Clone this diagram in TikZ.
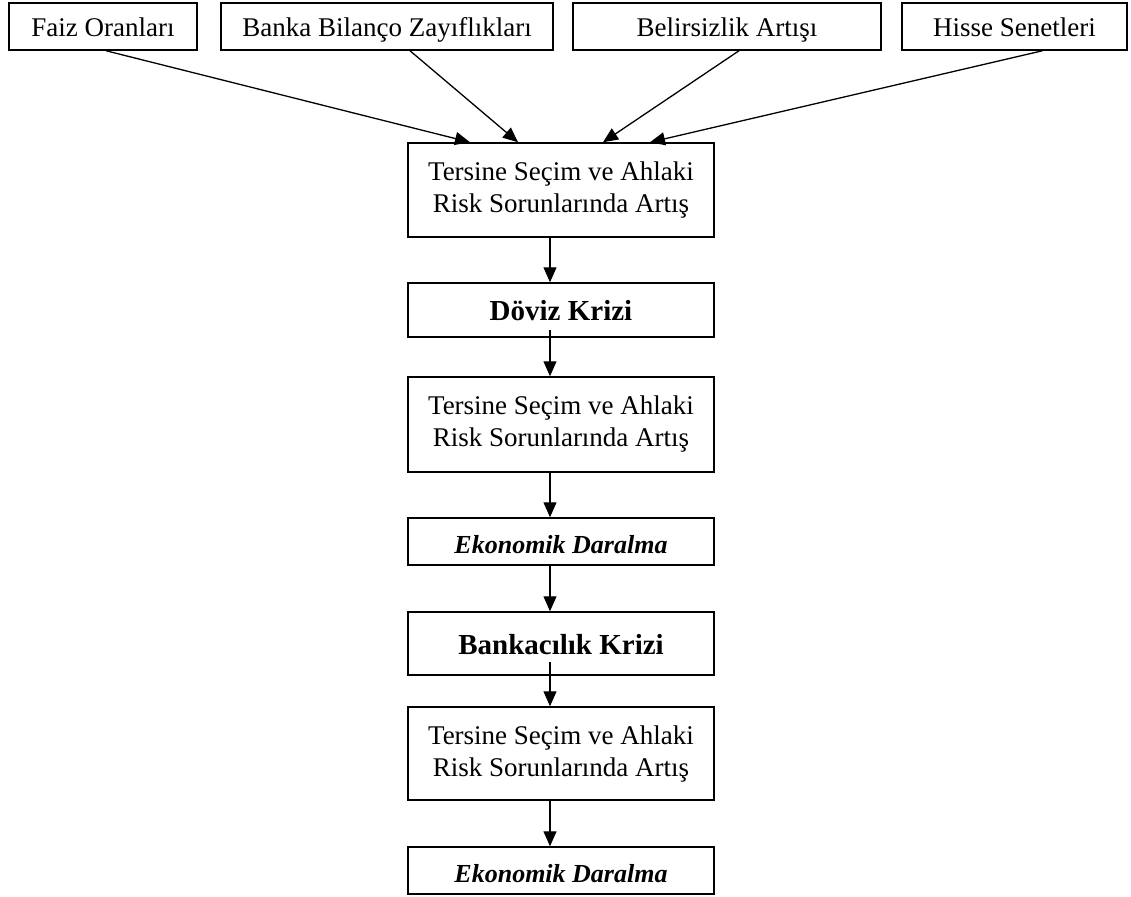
\documentclass[tikz,border=0pt]{standalone}
\usepackage{fontspec}
\setmainfont{Liberation Serif}
\usetikzlibrary{arrows.meta,calc}
\begin{document}
\begin{tikzpicture}[x=1pt,y=-1pt,
  box/.style={draw,line width=1.5pt,inner sep=0pt,align=center,font=\fontsize{27}{32}\selectfont},
  oneline/.style={text height=24pt,text depth=3pt},
  topbox/.style={box,oneline,minimum height=47pt},
  colbox/.style={box,minimum width=306pt},
  boldtxt/.style={oneline,font=\fontsize{29}{34}\selectfont\bfseries},
  itbold/.style={text height=26pt,text depth=2pt,font=\fontsize{26}{30}\selectfont\bfseries\itshape},
  arr/.style={line width=1.3pt,-{Triangle[length=15pt,width=13pt]}}]
\useasboundingbox (0,0) rectangle (1131,896);
% top row
\node[topbox,minimum width=188pt] (faiz) at (103,26.5) {Faiz Oranları};
\node[topbox,minimum width=332pt] (banka) at (387,26.5) {Banka Bilanço Zayıflıkları};
\node[topbox,minimum width=308pt] (belir) at (727,26.5) {Belirsizlik Artışı};
\node[topbox,minimum width=225pt] (hisse) at (1014.5,26.5) {Hisse Senetleri};
% column
\node[colbox,minimum height=94pt] (t1) at (561,190) {Tersine Seçim ve Ahlaki\\Risk Sorunlarında Artış};
\node[colbox,minimum height=54pt,boldtxt] (dov) at (561,310) {Döviz Krizi};
\node[colbox,minimum height=95pt] (t2) at (561,424.5) {Tersine Seçim ve Ahlaki\\Risk Sorunlarında Artış};
\node[colbox,minimum height=47pt,itbold] (ek1) at (561,541.5) {Ekonomik Daralma};
\node[colbox,minimum height=63pt,boldtxt] (bank) at (561,643.5) {Bankacılık Krizi};
\node[colbox,minimum height=93pt] (t3) at (561,753.5) {Tersine Seçim ve Ahlaki\\Risk Sorunlarında Artış};
\node[colbox,minimum height=47pt,itbold] (ek2) at (561,870.5) {Ekonomik Daralma};
% converging arrows
\draw[arr] ($(faiz.south)+(3,0)$) -- ($(t1.north)+(-91,0)$);
\draw[arr] ($(banka.south)+(23,0)$) -- ($(t1.north)+(-43,0)$);
\draw[arr] ($(belir.south)+(12,0)$) -- ($(t1.north)+(42,0)$);
\draw[arr] ($(hisse.south)+(28,0)$) -- ($(t1.north)+(89,0)$);
% vertical chain
\draw[arr] ($(t1.south)+(-11,0)$) -- ($(dov.north)+(-11,0)$);
\draw[arr] ($(dov.south)+(-11,-8)$) -- ($(t2.north)+(-11,0)$);
\draw[arr] ($(t2.south)+(-11,0)$) -- ($(ek1.north)+(-11,0)$);
\draw[arr] ($(ek1.south)+(-11,0)$) -- ($(bank.north)+(-11,0)$);
\draw[arr] ($(bank.south)+(-11,-14)$) -- ($(t3.north)+(-11,0)$);
\draw[arr] ($(t3.south)+(-11,0)$) -- ($(ek2.north)+(-11,0)$);
\end{tikzpicture}
\end{document}
